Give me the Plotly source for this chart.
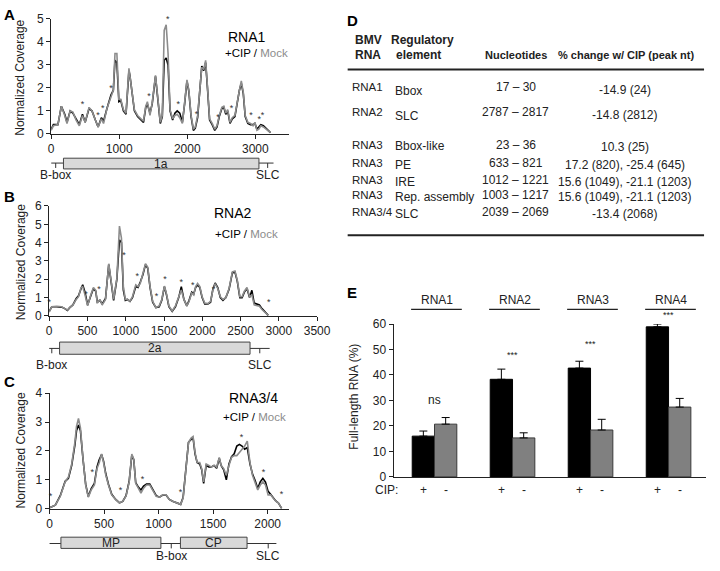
import plotly.graph_objects as go

W, H = 720, 571
FONT = "Arial, Liberation Sans, sans-serif"
GRAY = "#8c8c8c"

# ---------------- Panel A: RNA1 coverage ----------------
nt_A = [0, 33, 100, 150, 200, 233, 280, 320, 367, 414,
        460, 500, 557, 600, 650, 690, 738, 770, 820, 880,
        914, 938, 966, 995, 1023, 1062, 1100, 1143, 1157, 1185,
        1223, 1270, 1320, 1357, 1390, 1414, 1452, 1485, 1533, 1566,
        1604, 1633, 1661, 1690, 1718, 1747, 1785, 1818, 1852, 1890,
        1928, 1961, 1995, 2023, 2056, 2090, 2118, 2152, 2185, 2213,
        2242, 2270, 2300, 2328, 2366, 2404, 2437, 2470, 2508, 2537,
        2566, 2594, 2628, 2661, 2700, 2737, 2766, 2794, 2823, 2851,
        2890, 2928, 2966, 2994, 3023, 3051, 3080, 3118, 3165, 3222]
mock_A = [0.15, 0.35, 0.4, 1.2, 0.8, 0.45, 1.0, 0.95, 0.6, 0.35,
          0.8, 0.5, 1.15, 1.0, 0.6, 0.3, 0.65, 0.45, 1.1, 1.6,
          1.9, 3.5, 3.5, 1.5, 1.5, 1.05, 0.9, 2.85, 2.6, 1.9,
          1.05, 0.8, 0.65, 0.55, 1.2, 1.4, 0.8, 1.35, 2.55, 1.65,
          0.5, 0.8, 4.5, 4.75, 3.5, 1.05, 0.65, 0.8, 0.85, 0.7,
          0.45, 1.35, 2.35, 1.9, 0.8, 0.2, 0.3, 0.8, 1.8, 2.9,
          2.8, 3.2, 1.9, 0.65, 0.45, 0.2, 0.35, 0.8, 1.15, 1.2,
          0.9, 1.05, 0.5, 0.7, 0.8, 1.5, 1.9, 2.3, 1.8, 0.8,
          0.5, 0.45, 0.35, 0.5, 0.15, 0.2, 0.35, 0.3, 0.2, 0.05]
cip_A = [0.2, 0.4, 0.4, 1.2, 0.85, 0.5, 1.0, 0.9, 0.65, 0.4,
         0.85, 0.5, 1.1, 1.0, 0.6, 0.3, 0.7, 0.55, 1.1, 1.7,
         1.9, 3.2, 3.1, 1.4, 1.45, 1.0, 0.85, 2.75, 2.55, 1.85,
         1.0, 0.75, 0.6, 0.5, 1.15, 1.3, 0.9, 1.3, 2.5, 1.6,
         0.45, 0.75, 3.2, 3.3, 3.0, 1.0, 0.6, 0.9, 1.0, 0.9,
         0.5, 1.3, 2.3, 1.85, 0.75, 0.15, 0.25, 0.7, 1.75, 2.95,
         2.75, 3.1, 1.85, 0.6, 0.4, 0.15, 0.3, 0.75, 1.1, 1.15,
         0.85, 1.0, 0.45, 0.65, 0.75, 1.45, 1.9, 2.2, 1.75, 0.75,
         0.45, 0.4, 0.4, 0.45, 0.2, 0.3, 0.4, 0.35, 0.2, 0.05]
star_A_nt = [462, 690, 757, 880, 1437, 1714, 1866, 2137, 2451, 2651, 2937, 3056, 3104]
star_A_y = [1.28, 0.78, 1.07, 1.97, 1.6, 4.96, 1.28, 0.81, 0.71, 1.1, 0.78, 0.6, 0.78]

# ---------------- Panel B: RNA2 coverage ----------------
nt_B = [0, 34, 98, 162, 205, 238, 268, 310, 353, 383,
        417, 438, 468, 502, 544, 578, 608, 629, 663, 693,
        736, 778, 808, 842, 884, 918, 944, 969, 995, 1020,
        1055, 1088, 1131, 1161, 1190, 1224, 1258, 1288, 1318, 1352,
        1394, 1437, 1471, 1505, 1530, 1564, 1607, 1649, 1692, 1726,
        1760, 1798, 1828, 1862, 1888, 1913, 1939, 1968, 1998, 2032,
        2074, 2108, 2138, 2168, 2202, 2236, 2270, 2308, 2350, 2393,
        2427, 2457, 2491, 2520, 2550, 2584, 2618, 2648, 2678, 2712,
        2746, 2780, 2818, 2861]
mock_B = [0.2, 0.5, 0.53, 0.5, 0.4, 0.32, 0.45, 0.6, 0.9, 1.05,
          1.55, 1.6, 1.15, 0.55, 1.15, 1.55, 1.4, 0.7, 0.9, 0.6,
          0.9, 2.85, 1.95, 0.9, 2.05, 4.9, 4.25, 1.6, 0.9, 0.92,
          0.8, 1.05, 1.7, 1.6, 1.77, 2.3, 2.85, 2.65, 1.6, 0.8,
          0.45, 0.55, 0.9, 1.63, 1.25, 0.55, 0.27, 0.55, 1.0, 1.42,
          0.9, 0.55, 0.8, 1.25, 1.15, 1.6, 1.77, 1.6, 1.05, 0.7,
          0.67, 0.8, 1.4, 1.77, 1.5, 1.05, 0.9, 1.0, 1.5, 2.4,
          2.45, 1.95, 1.05, 1.05, 1.35, 1.55, 1.05, 1.15, 0.6, 0.55,
          0.53, 0.35, 0.18, 0.03]
cip_B = [0.25, 0.5, 0.5, 0.48, 0.4, 0.3, 0.45, 0.6, 0.95, 1.1,
         1.5, 1.7, 1.3, 0.6, 1.1, 1.5, 1.35, 0.75, 0.85, 0.65,
         0.95, 2.8, 1.9, 0.85, 2.0, 4.15, 4.0, 1.4, 0.85, 0.9,
         0.8, 1.0, 1.6, 1.55, 1.85, 2.25, 2.8, 2.6, 1.55, 0.75,
         0.45, 0.5, 0.85, 1.6, 1.2, 0.5, 0.25, 0.5, 1.0, 1.6,
         0.9, 0.55, 0.85, 1.3, 1.2, 1.55, 1.7, 1.55, 1.0, 0.65,
         0.65, 0.75, 1.45, 1.8, 1.55, 1.0, 0.85, 1.0, 1.45, 2.35,
         2.4, 1.9, 1.0, 1.0, 1.3, 1.5, 1.0, 1.4, 0.7, 0.65,
         0.6, 0.4, 0.2, 0.03]
star_B_nt = [0, 480, 650, 978, 1152, 1403, 1513, 1726, 1875, 2147, 2870]
star_B_y = [0.74, 1.15, 1.45, 3.28, 2.16, 1.03, 2.0, 1.8, 1.67, 1.42, 0.7]

# ---------------- Panel C: RNA3/4 coverage ----------------
nt_C = [0, 9, 53, 98, 143, 173, 203, 232, 247, 265,
        283, 307, 331, 355, 382, 411, 435, 456, 477, 495,
        516, 540, 570, 606, 641, 671, 701, 730, 754, 772,
        790, 814, 838, 862, 889, 919, 949, 978, 1008, 1038,
        1068, 1098, 1128, 1172, 1202, 1225, 1250, 1274, 1298, 1316,
        1334, 1353, 1377, 1395, 1413, 1436, 1460, 1484, 1508, 1532,
        1556, 1573, 1597, 1621, 1645, 1669, 1693, 1717, 1741, 1765,
        1789, 1813, 1838, 1861, 1885, 1909, 1932, 1956, 1980, 2004,
        2027, 2050, 2074, 2098, 2128]
mock_C = [0.03, 0.05, 0.12, 0.43, 0.93, 1.1, 1.55, 2.3, 2.85, 3.13,
          2.8, 1.72, 0.82, 0.4, 0.65, 0.82, 1.39, 1.6, 1.9, 1.6,
          1.16, 0.82, 0.48, 0.32, 0.2, 0.26, 0.43, 0.93, 1.89, 1.72,
          0.88, 0.71, 0.54, 0.71, 0.82, 0.82, 0.6, 0.43, 0.4, 0.48,
          0.48, 0.32, 0.26, 0.2, 0.15, 0.37, 1.39, 2.29, 2.45, 2.5,
          1.95, 1.6, 1.6, 1.39, 0.93, 1.55, 1.5, 1.44, 1.5, 1.44,
          1.78, 1.5, 1.39, 1.16, 1.5, 1.78, 1.84, 1.84, 1.95, 2.06,
          2.17, 2.34, 1.6, 1.16, 0.93, 0.65, 0.82, 0.93, 0.82, 0.48,
          0.48, 0.37, 0.26, 0.2, 0.01]
cip_C = [0.03, 0.05, 0.12, 0.45, 0.95, 1.05, 1.5, 2.2, 2.7, 2.9,
         2.7, 1.7, 0.85, 0.42, 0.7, 0.88, 1.45, 1.7, 1.88, 1.65,
         1.2, 0.85, 0.5, 0.32, 0.2, 0.25, 0.45, 0.95, 1.85, 1.7,
         0.9, 0.75, 0.65, 0.78, 0.85, 0.85, 0.62, 0.45, 0.4, 0.47,
         0.47, 0.32, 0.26, 0.2, 0.15, 0.4, 1.35, 2.3, 2.4, 2.45,
         1.9, 1.6, 1.55, 1.35, 0.88, 1.5, 1.45, 1.45, 1.5, 1.4,
         1.75, 1.5, 1.35, 1.0, 1.55, 1.8, 1.9, 2.17, 2.23, 2.17,
         2.06, 2.12, 1.55, 1.2, 0.98, 0.7, 0.93, 1.05, 0.92, 0.6,
         0.5, 0.38, 0.27, 0.2, 0.01]
star_C_nt = [9, 391, 650, 853, 1202, 1760, 1963, 2128]
star_C_y = [0.4, 1.25, 0.62, 0.99, 0.54, 2.45, 1.25, 0.48]

# ---------------- Genome maps ----------------
genome_A_ends = [0, 3267]
orf_A_names = ["1a"]
orf_A_start = [181]
orf_A_end = [3053]
mark_A_nt = [67, 3181]
mark_A_names = ["B-box", "SLC"]

genome_B_ends = [-30, 2880]
orf_B_names = ["2a"]
orf_B_start = [136]
orf_B_end = [2624]
mark_B_nt = [34, 2751]
mark_B_names = ["B-box", "SLC"]

genome_C_ends = [-24, 2080]
orf_C_names = ["MP", "CP"]
orf_C_start = [104, 1200]
orf_C_end = [1021, 1811]
mark_C_nt = [1116, 2005]
mark_C_names = ["B-box", "SLC"]

# ---------------- Panel D: table ----------------
tbl_rna = ["RNA1", "RNA2", "RNA3", "RNA3", "RNA3", "RNA3", "RNA3/4"]
tbl_elem = ["Bbox", "SLC", "Bbox-like", "PE", "IRE", "Rep. assembly", "SLC"]
tbl_nt = ["17 – 30", "2787 – 2817", "23 – 36", "633 – 821", "1012 – 1221", "1003 – 1217", "2039 – 2069"]
tbl_change = ["-14.9 (24)", "-14.8 (2812)", "10.3 (25)", "17.2 (820), -25.4 (645)",
              "15.6 (1049), -21.1 (1203)", "15.6 (1049), -21.1 (1203)", "-13.4 (2068)"]

# ---------------- Panel E: bar chart ----------------
groups = ["RNA1", "RNA2", "RNA3", "RNA4"]
cip_plus = [16.0, 38.3, 42.7, 58.9]
cip_plus_err = [2.0, 4.0, 2.7, 1.1]
cip_minus = [20.7, 15.3, 18.4, 27.4]
cip_minus_err = [2.6, 2.0, 4.2, 3.4]
signif = ["ns", "***", "***", "***"]
signif_y = [30, 48, 52, 63.5]


def py(p):
    return 1 - p / H


def px(p):
    return p / W


# panel E axis geometry (pixels)
E_Y0, E_Y1, E_MAX = 481.7, 325.0, 60.0


def e_paper(v):
    return py(E_Y0 - v * (E_Y0 - E_Y1) / E_MAX)


fig = go.Figure()


def add_cov(x, cip, mock, sx, sy, xa, ya):
    fig.add_trace(go.Scatter(x=x, y=cip, mode="lines", line=dict(color="black", width=1.6),
                             xaxis=xa, yaxis=ya, hoverinfo="skip"))
    fig.add_trace(go.Scatter(x=x, y=mock, mode="lines", line=dict(color=GRAY, width=1.6),
                             xaxis=xa, yaxis=ya, hoverinfo="skip"))
    fig.add_trace(go.Scatter(x=sx, y=sy, mode="text", text=["*"] * len(sx),
                             textfont=dict(size=9, color="#333", family=FONT),
                             xaxis=xa, yaxis=ya, cliponaxis=False, hoverinfo="skip"))


add_cov(nt_A, cip_A, mock_A, star_A_nt, star_A_y, "x", "y")
add_cov(nt_B, cip_B, mock_B, star_B_nt, star_B_y, "x2", "y2")
add_cov(nt_C, cip_C, mock_C, star_C_nt, star_C_y, "x3", "y3")

gx = list(range(len(groups)))
fig.add_trace(go.Bar(x=gx, y=cip_plus, xaxis="x4", yaxis="y4",
                     marker=dict(color="black", line=dict(color="black", width=1)),
                     error_y=dict(type="data", symmetric=False, array=cip_plus_err,
                                  arrayminus=[0] * 4, color="black", thickness=1, width=4)))
fig.add_trace(go.Bar(x=gx, y=cip_minus, xaxis="x4", yaxis="y4",
                     marker=dict(color="#808080", line=dict(color="#3a3a3a", width=1)),
                     error_y=dict(type="data", symmetric=False, array=cip_minus_err,
                                  arrayminus=[0] * 4, color="black", thickness=1, width=4)))

axis_common = dict(showline=True, linecolor="#222", linewidth=1, ticks="outside", ticklen=4,
                   tickcolor="#222", showgrid=False, zeroline=False,
                   tickfont=dict(size=12, family=FONT, color="#222"))

shapes = []
annotations = []


def ann(text, x, y, size=12, bold=False, xanchor="center", yanchor="middle", xref="paper",
        yref="paper", color="#222", angle=0, xshift=0):
    if bold:
        text = "<b>" + text + "</b>"
    annotations.append(dict(text=text, x=x, y=y, xref=xref, yref=yref, showarrow=False,
                            xanchor=xanchor, yanchor=yanchor, textangle=angle, xshift=xshift,
                            font=dict(size=size, family=FONT, color=color)))


def genome(xref, ends, names, starts, stops, marks, mnames, yline, ybox0, ybox1, ylab):
    shapes.append(dict(type="line", xref=xref, yref="paper", x0=ends[0], x1=ends[1],
                       y0=py(yline), y1=py(yline), line=dict(color="#333", width=1)))
    for m in marks:
        shapes.append(dict(type="line", xref=xref, yref="paper", x0=m, x1=m,
                           y0=py(yline), y1=py(yline + 5), line=dict(color="#333", width=1)))
    for n, s, e in zip(names, starts, stops):
        shapes.append(dict(type="rect", xref=xref, yref="paper", x0=s, x1=e,
                           y0=py(ybox1), y1=py(ybox0), fillcolor="#d9d9d9",
                           line=dict(color="#444", width=1)))
        ann(n, (s + e) / 2, py((ybox0 + ybox1) / 2), size=12, xref=xref)
    for m, n in zip(marks, mnames):
        ann(n, m, py(ylab), size=12, xref=xref)


genome("x", genome_A_ends, orf_A_names, orf_A_start, orf_A_end, mark_A_nt, mark_A_names, 160, 155, 166, 172)
genome("x2", genome_B_ends, orf_B_names, orf_B_start, orf_B_end, mark_B_nt, mark_B_names, 350, 343.5, 356, 367)
genome("x3", genome_C_ends, orf_C_names, orf_C_start, orf_C_end, mark_C_nt, mark_C_names, 550, 543.5, 555, 563)

# Panel letters
for letter, (lx, ly) in zip("ABCDE", [(7, 8), (7, 194), (7, 384), (358, 14), (357, 293)]):
    ann(letter, px(lx), py(ly), size=15, bold=True, color="black")

# Y titles
for cy in [73, 262, 455]:
    ann("Normalized Coverage", px(18), py(cy), size=12, angle=-90)
ann("Full-length RNA (%)", px(360), py(400), size=12, angle=-90)

# Coverage panel titles
mock_span = "+CIP / <span style='color:" + GRAY + "'>Mock</span>"
for name, (tx, ty), (sx, sy) in zip(["RNA1", "RNA2", "RNA3/4"],
                                    [(250, 31), (236, 211), (257, 401)],
                                    [(260, 47), (249, 233), (258, 420)]):
    ann(name, px(tx), py(ty), size=14, color="black")
    ann(mock_span, px(sx), py(sy), size=11.5, color="black")

# Table D
ann("BMV", px(358), py(34), size=12, bold=True, xanchor="left")
ann("RNA", px(358), py(49), size=12, bold=True, xanchor="left")
ann("Regulatory", px(395), py(34), size=12, bold=True, xanchor="left")
ann("element", px(426), py(49), size=12, bold=True)
ann("Nucleotides", px(525), py(49), size=11, bold=True)
ann("% change w/ CIP (peak nt)", px(638), py(49), size=11, bold=True)
row_y = [82, 108, 141, 160, 177, 193, 210]
for i in range(len(tbl_rna)):
    y = row_y[i]
    ann(tbl_rna[i], px(355), py(y), size=11.5, xanchor="left")
    ann(tbl_elem[i], px(399), py(y + (4 if i < 2 else 2)), size=12, xanchor="left")
    ann(tbl_nt[i], px(525), py(y), size=12)
    ann(tbl_change[i], px(637), py(y + (3 if i < 3 else 2)), size=12)
for ly in [64, 234]:
    shapes.append(dict(type="line", xref="paper", yref="paper", x0=px(353), x1=px(718),
                       y0=py(ly), y1=py(ly), line=dict(color="#222", width=2)))

# Panel E decorations
bar_w = (1 - 0.428) / 2
for i, g in enumerate(groups):
    ann(g, i + 0.03, py(300), size=12, xref="x4")
    shapes.append(dict(type="line", xref="x4", yref="paper", x0=i - 0.3, x1=i + 0.35,
                       y0=py(310), y1=py(310), line=dict(color="#222", width=1.2)))
    ann(signif[i], i, e_paper(signif_y[i]), size=12 if signif[i] == "ns" else 9, xref="x4")
    ann("+", i - bar_w / 2, py(495), size=12, xref="x4")
    ann("-", i + bar_w / 2, py(495), size=12, xref="x4")
ann("CIP:", px(393), py(495), size=12)

fig.update_layout(
    width=W, height=H, margin=dict(l=0, r=0, t=0, b=0),
    paper_bgcolor="white", plot_bgcolor="white", showlegend=False,
    font=dict(family=FONT, size=12, color="#222"),
    barmode="group", bargap=0.428, bargroupgap=0,
    xaxis=dict(domain=[px(49.3), px(293.3)], range=[0, 3500], dtick=1000, anchor="y", **axis_common),
    yaxis=dict(domain=[py(130), py(12.3)], range=[0, 5], dtick=1, anchor="x", **axis_common),
    xaxis2=dict(domain=[px(47.3), px(321.7)], range=[0, 3500], dtick=500, anchor="y2", **axis_common),
    yaxis2=dict(domain=[py(316.7), py(204)], range=[0, 6], dtick=1, anchor="x2", **axis_common),
    xaxis3=dict(domain=[px(47.7), px(293.4)], range=[0, 2200], dtick=500, anchor="y3", **axis_common),
    yaxis3=dict(domain=[py(514.3), py(396)], range=[0, 4], dtick=1, anchor="x3", **axis_common),
    xaxis4=dict(domain=[px(400), 1.0], range=[-0.525, 3.48], anchor="y4", showline=True,
                linecolor="#222", showticklabels=False, ticks="", showgrid=False, zeroline=False),
    yaxis4=dict(domain=[py(E_Y0), py(E_Y1)], range=[0, E_MAX], dtick=10, anchor="x4", **axis_common),
    shapes=shapes, annotations=annotations,
)

fig.write_html("out.html", config={"displayModeBar": False},
               post_script="document.body.style.margin='0px';")
